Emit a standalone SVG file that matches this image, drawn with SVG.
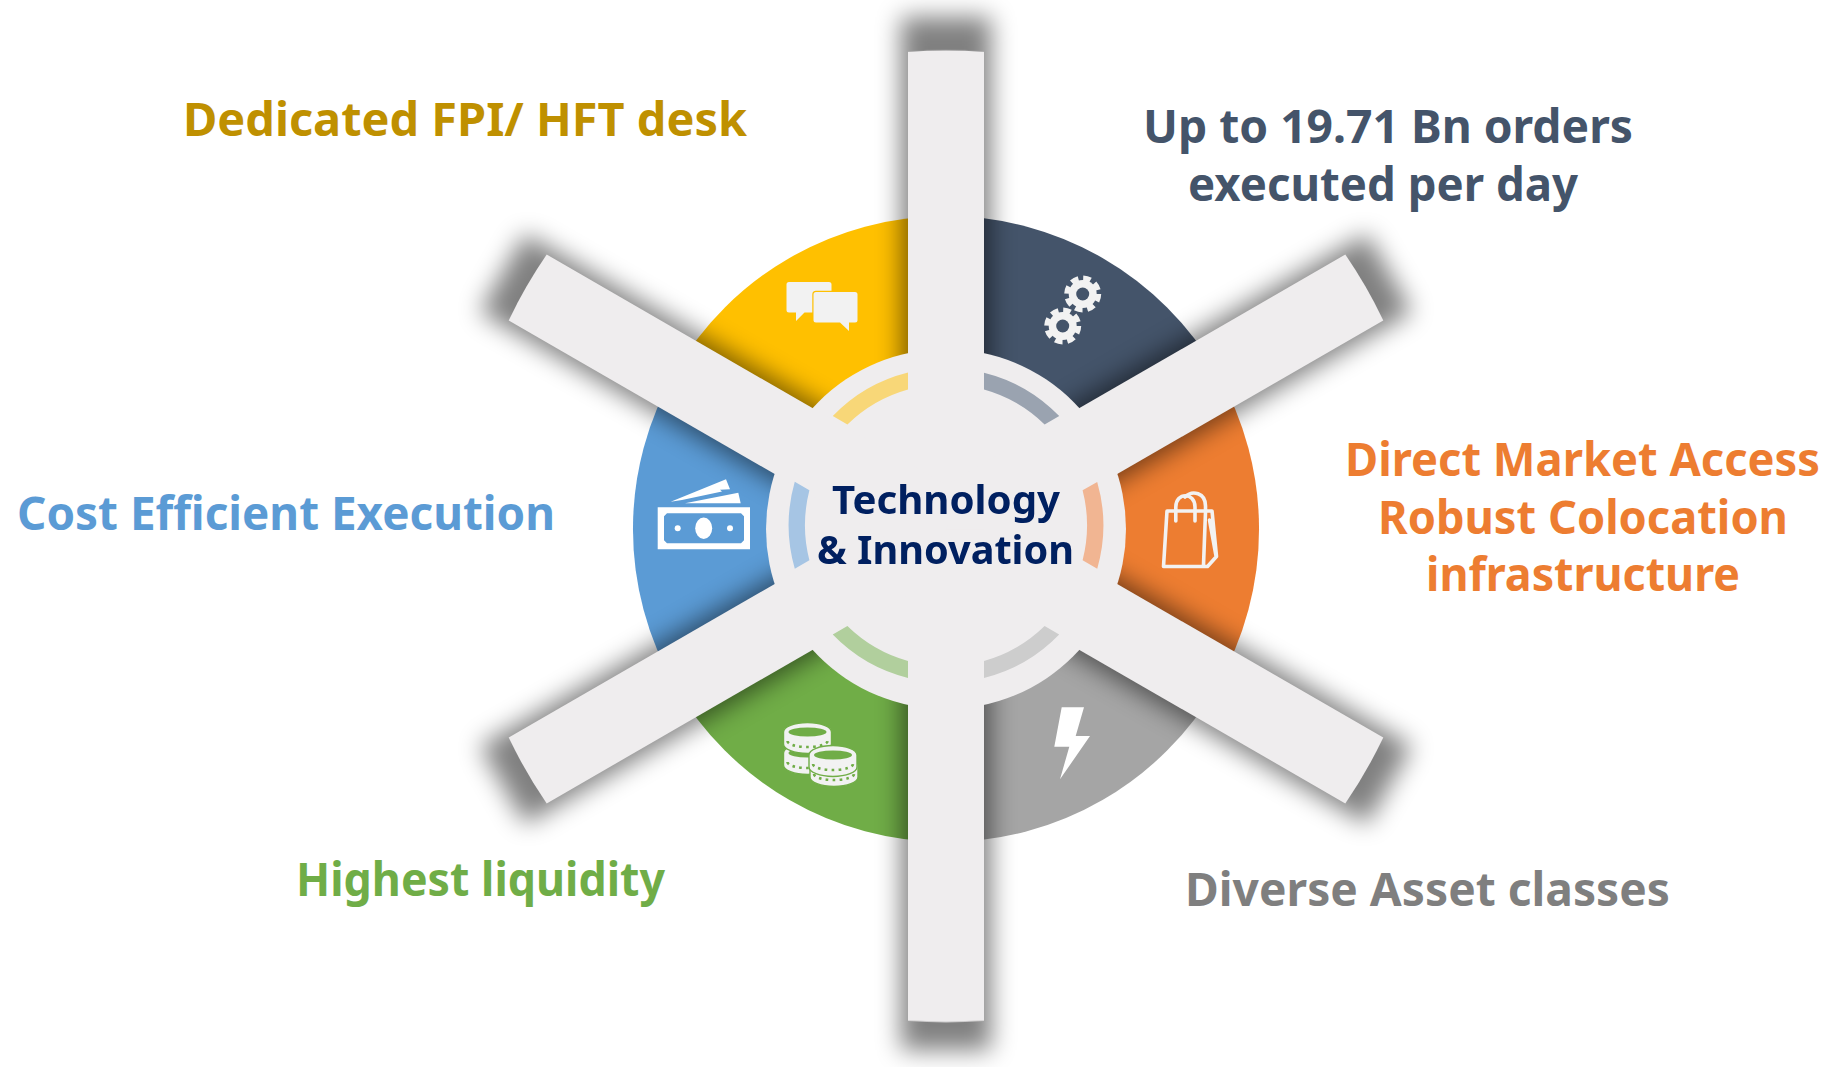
<svg xmlns="http://www.w3.org/2000/svg" width="1830" height="1067" viewBox="0 0 1830 1067">
<style>
.lb{font-family:"Noto Sans","Open Sans","Liberation Sans",sans-serif;font-weight:700;font-size:46px;text-anchor:start}
.ctr{font-family:"Noto Sans","Open Sans","Liberation Sans",sans-serif;font-weight:700;font-size:40px;fill:#002060}
.spoke{fill:#EFEDEE}
.ic{fill:#F2F2F2}
.bagl{fill:none;stroke:#F2F2F2;stroke-width:3.6;stroke-linejoin:round;stroke-linecap:round}
</style>
<defs>
<filter id="blur" filterUnits="userSpaceOnUse" x="0" y="0" width="1830" height="1067"><feGaussianBlur stdDeviation="12"/></filter>
<path id="sp" d="M-38,0V-483A485,485 0 0 1 38,-483V0Z"/>
<path id="sh" d="M-45,0V-512H45V0Z"/>
<path id="ar" d="M-113.200,-109.250A157.400,157.400 0 0 1 -38,-152.700L-38,-135.800A141,141 0 0 0 -98.600,-100.800Z"/>
<g id="gear">
<circle r="14" class="ic"/>
<circle r="15.500" fill="none" stroke="#F2F2F2" stroke-width="6" stroke-dasharray="7.400 4.780"/>
<circle r="6.500" fill="#44546A"/>
</g>
<g id="coin">
<path d="M-24,0A24,9.500 0 0 1 24,0V12A24,9.500 0 0 1 -24,12Z" fill="#F2F2F2" stroke="#70AD47" stroke-width="1.400"/>
<ellipse rx="19" ry="4.600" fill="#70AD47"/>
<path d="M-20,9A20,6 0 0 0 20,9" fill="none" stroke="#70AD47" stroke-width="2.600" stroke-dasharray="2.600 4.200"/>
</g>
</defs>

<g id="seg-top-left">
<path d="M946,529L674.900,372.500A313,313 0 0 1 946,216Z" fill="#FFC000"/>
<g id="icon-chat">
<path class="ic" d="M789,282H829a2.500,2.500 0 0 1 2.500,2.500V310a2.500,2.500 0 0 1 -2.500,2.500H804.500L796,321V312.500H789a2.500,2.500 0 0 1 -2.500,-2.500V284.500a2.500,2.500 0 0 1 2.500,-2.500Z"/>
<path class="ic" stroke="#FFC000" stroke-width="2.400" paint-order="stroke" d="M816,292H855a2.500,2.500 0 0 1 2.500,2.500V320a2.500,2.500 0 0 1 -2.500,2.500H849V331L840,322.500H816a2.500,2.500 0 0 1 -2.500,-2.500V294.500a2.500,2.500 0 0 1 2.500,-2.500Z"/>
</g>
<text class="lb" x="183" y="136" fill="#BF9000" textLength="564" lengthAdjust="spacingAndGlyphs">Dedicated FPI/ HFT desk</text>
</g>

<g id="seg-top-right">
<path d="M946,529V216A313,313 0 0 1 1217.100,372.500Z" fill="#44546A"/>
<g id="icon-gears">
<use href="#gear" x="1082.700" y="294"/>
<use href="#gear" x="1062.700" y="326"/>
</g>
<text class="lb" x="1143" y="143" fill="#44546A" textLength="490" lengthAdjust="spacingAndGlyphs">Up to 19.71 Bn orders</text>
<text class="lb" x="1188" y="201" fill="#44546A" textLength="390" lengthAdjust="spacingAndGlyphs">executed per day</text>
</g>

<g id="seg-right">
<path d="M946,529L1217.100,372.500A313,313 0 0 1 1217.100,685.500Z" fill="#ED7D31"/>
<g id="icon-bag">
<path class="bagl" d="M1167,511H1212L1216.500,556.500L1207.500,566.500H1163.500ZM1205.500,512L1203.500,565M1209.500,520L1216,556"/>
<path class="bagl" d="M1175.800,521V507C1175.800,492 1195,492 1195,507V521"/>
<path class="bagl" d="M1185,497C1192,490 1206,492 1205.500,507V511"/>
</g>
<text class="lb" x="1345" y="476" fill="#ED7D31" textLength="475" lengthAdjust="spacingAndGlyphs">Direct Market Access</text>
<text class="lb" x="1378" y="534" fill="#ED7D31" textLength="410" lengthAdjust="spacingAndGlyphs">Robust Colocation</text>
<text class="lb" x="1426" y="591" fill="#ED7D31" textLength="314" lengthAdjust="spacingAndGlyphs">infrastructure</text>
</g>

<g id="seg-bottom-right">
<path d="M946,529L1217.100,685.500A313,313 0 0 1 946,842Z" fill="#A5A5A5"/>
<polygon id="icon-bolt" fill="#fff" points="1061.700,707.300 1084,707.300 1075.700,736 1090,736 1060,779.300 1069.300,746.700 1054.300,746.700"/>
<text class="lb" x="1185" y="906" fill="#7F7F7F" textLength="485" lengthAdjust="spacingAndGlyphs">Diverse Asset classes</text>
</g>

<g id="seg-bottom-left">
<path d="M946,529V842A313,313 0 0 1 674.900,685.500Z" fill="#70AD47"/>
<g id="icon-coins">
<use href="#coin" x="807.500" y="753"/>
<use href="#coin" x="807.500" y="732"/>
<use href="#coin" x="834" y="765"/>
<use href="#coin" x="833" y="755"/>
</g>
<text class="lb" x="296" y="896" fill="#70AD47" textLength="369" lengthAdjust="spacingAndGlyphs">Highest liquidity</text>
</g>

<g id="seg-left">
<path d="M946,529L674.900,685.500A313,313 0 0 1 674.900,372.500Z" fill="#5B9BD5"/>
<g id="icon-money">
<path fill="#fff" fill-rule="evenodd" d="M657.700,507.300H750V549.300H657.700ZM667,513.300L664,516.300V540.300L667,543.300H741L744,540.300V516.300L741,513.300Z"/>
<ellipse cx="703.700" cy="528.300" rx="8.500" ry="10.700" fill="#fff"/>
<circle cx="677.700" cy="528.300" r="3" fill="#fff"/>
<circle cx="730" cy="528.300" r="3" fill="#fff"/>
<polygon fill="#fff" points="670.700,501.700 726,479.300 730,489.300 720,489.700 722,491.500 682,500"/>
<polygon fill="#fff" points="685,503.300 738.300,492.700 740.700,503.300"/>
</g>
<text class="lb" x="17" y="530" fill="#5B9BD5" textLength="538" lengthAdjust="spacingAndGlyphs">Cost Efficient Execution</text>
</g>

<g id="connectors">
<g id="shadows" filter="url(#blur)" opacity="0.5" fill="#000">
<use href="#sh" transform="translate(946,529)"/>
<use href="#sh" transform="translate(946,529) rotate(60)"/>
<use href="#sh" transform="translate(946,529) rotate(120)"/>
<path d="M901,529V1050H991V529Z"/>
<use href="#sh" transform="translate(946,529) rotate(240)"/>
<use href="#sh" transform="translate(946,529) rotate(300)"/>
</g>
<circle id="hub-disc" cx="946" cy="529" r="180" fill="#EFEDEE"/>
<g id="spokes" class="spoke">
<use href="#sp" transform="translate(946,529) scale(1,0.988)"/>
<use href="#sp" transform="translate(946,529) rotate(60)"/>
<use href="#sp" transform="translate(946,529) rotate(120)"/>
<use href="#sp" transform="translate(946,529) rotate(180) scale(1,1.018)"/>
<use href="#sp" transform="translate(946,529) rotate(240)"/>
<use href="#sp" transform="translate(946,529) rotate(300)"/>
</g>
</g>

<g id="hub">
<g id="arcs">
<use href="#ar" fill="#F8D778" transform="translate(946,525.300)"/>
<use href="#ar" fill="#9AA3B0" transform="translate(946,525.300) rotate(60)"/>
<use href="#ar" fill="#F1B592" transform="translate(946,525.300) rotate(120)"/>
<use href="#ar" fill="#CDCDCD" transform="translate(946,525.300) rotate(180)"/>
<use href="#ar" fill="#B1CF9D" transform="translate(946,525.300) rotate(240)"/>
<use href="#ar" fill="#A6C5E4" transform="translate(946,525.300) rotate(300)"/>
</g>
<text class="ctr" x="832" y="514" textLength="228" lengthAdjust="spacingAndGlyphs">Technology</text>
<text class="ctr" x="817" y="564" textLength="257" lengthAdjust="spacingAndGlyphs">&amp; Innovation</text>
</g>
</svg>
